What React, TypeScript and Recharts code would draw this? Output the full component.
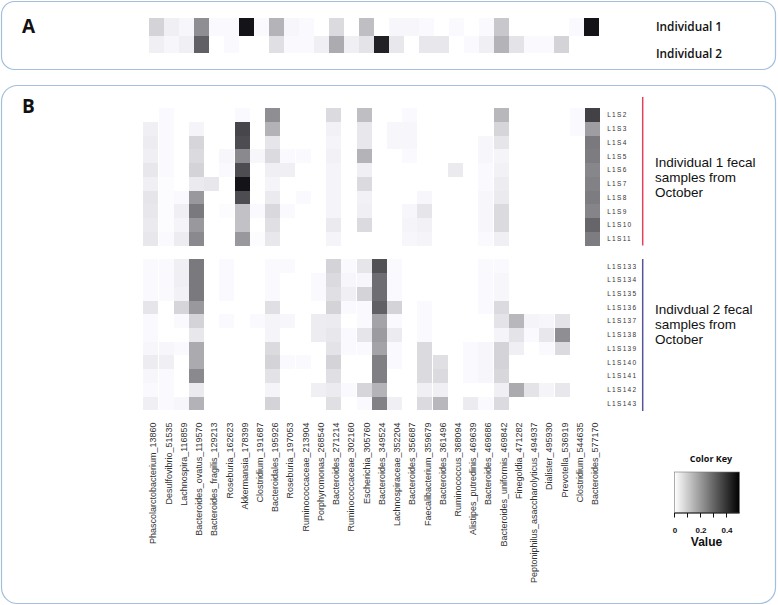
import React from 'react';
import { BarChart, Bar, XAxis, YAxis, Cell } from 'recharts';

// ---------- categories ----------
const taxa = [
  'Phascolarctobacterium_13860', 'Desulfovibrio_51535', 'Lachnospira_116859', 'Bacteroides_ovatus_119570',
  'Bacteroides_fragilis_129213', 'Roseburia_162623', 'Akkermansia_178399', 'Clostridium_191687',
  'Bacteroidales_195926', 'Roseburia_197053', 'Ruminococcaceae_213904', 'Porphyromonas_268540',
  'Bacteroides_271214', 'Ruminococcaceae_302160', 'Escherichia_305760', 'Bacteroides_349524',
  'Lachnospiraceae_352204', 'Bacteroides_356687', 'Faecalibacterium_359679', 'Bacteroides_361496',
  'Ruminococcus_368094', 'Alistipes_putredinis_469639', 'Bacteroides_469686', 'Bacteroides_uniformis_469842',
  'Finegoldia_471282', 'Peptoniphilus_asaccharolyticus_494937', 'Dialister_495930', 'Prevotella_536919',
  'Clostridium_544635', 'Bacteroides_577170',
];

const individuals = ['Individual 1', 'Individual 2'];
const samples1 = ['L1S2', 'L1S3', 'L1S4', 'L1S5', 'L1S6', 'L1S7', 'L1S8', 'L1S9', 'L1S10', 'L1S11'];
const samples2 = ['L1S133', 'L1S134', 'L1S135', 'L1S136', 'L1S137', 'L1S138', 'L1S139', 'L1S140', 'L1S141', 'L1S142', 'L1S143'];
const groupNotes1 = ['Individual 1 fecal', 'samples from', 'October'];
const groupNotes2 = ['Indivdual 2 fecal', 'samples from', 'October'];

// ---------- panel A values (per individual, one per taxon) ----------
const individual1 = [0.085, 0.03, 0.015, 0.22, 0.01, 0.01, 0.46, 0.01, 0.147, 0.015, 0.01, 0, 0.07, 0, 0.125,
  0, 0.015, 0.015, 0.01, 0, 0.01, 0, 0.01, 0.108, 0, 0, 0, 0, 0.01, 0.46];
const individual2 = [0.03, 0.015, 0.03, 0.31, 0, 0.01, 0, 0, 0.06, 0.01, 0.01, 0.03, 0.163, 0.03, 0.053,
  0.433, 0.045, 0, 0.045, 0.045, 0, 0.01, 0.03, 0.147, 0.053, 0.01, 0.01, 0.085, 0, 0];

// ---------- panel B values (per taxon: L1S2..L1S11 then L1S133..L1S143) ----------
const phascolarctobacterium13860 = [0, 0.03, 0.035, 0.03, 0.045, 0.03, 0.05, 0.045, 0.04, 0.045, 0.01, 0.01, 0.01, 0.05, 0.01, 0.01, 0.015, 0.035, 0.015, 0.01, 0.03];
const desulfovibrio51535 = [0.01, 0.01, 0.01, 0.01, 0.01, 0.005, 0.005, 0.005, 0.005, 0.01, 0.01, 0.01, 0.01, 0, 0, 0, 0.015, 0.03, 0.01, 0.01, 0.01];
const lachnospira116859 = [0, 0, 0, 0, 0, 0, 0.01, 0.03, 0.02, 0.035, 0.03, 0.03, 0.025, 0.08, 0.01, 0, 0.01, 0, 0, 0, 0.015];
const bacteroidesOvatus119570 = [0, 0.02, 0.08, 0.07, 0.085, 0.04, 0.2, 0.26, 0.2, 0.23, 0.26, 0.26, 0.26, 0.2, 0.085, 0.045, 0.165, 0.165, 0.23, 0.04, 0.15];
const bacteroidesFragilis129213 = [0, 0, 0, 0, 0, 0.045, 0, 0, 0, 0, 0, 0, 0, 0, 0, 0, 0, 0, 0, 0, 0];
const roseburia162623 = [0, 0, 0, 0.015, 0.01, 0, 0, 0.005, 0, 0, 0.01, 0.01, 0.01, 0, 0.01, 0, 0, 0, 0, 0, 0];
const akkermansia178399 = [0.01, 0.36, 0.35, 0.23, 0.35, 0.46, 0.35, 0.12, 0.12, 0.2, 0, 0, 0, 0, 0, 0, 0, 0, 0, 0, 0];
const clostridium191687 = [0, 0, 0, 0.015, 0, 0, 0, 0.01, 0, 0.005, 0, 0, 0, 0, 0.01, 0, 0, 0, 0, 0, 0];
const bacteroidales195926 = [0.22, 0.15, 0.05, 0.07, 0.03, 0.02, 0.04, 0.075, 0.06, 0.045, 0.01, 0.01, 0.01, 0.06, 0.02, 0.02, 0.07, 0.085, 0.055, 0.02, 0.085];
const roseburia197053 = [0, 0, 0, 0.01, 0.03, 0, 0, 0.01, 0, 0, 0.01, 0, 0, 0, 0.015, 0, 0, 0.01, 0, 0, 0];
const ruminococcaceae213904 = [0, 0, 0, 0.01, 0, 0, 0.01, 0, 0, 0, 0, 0, 0, 0, 0, 0, 0, 0.01, 0, 0, 0];
const porphyromonas268540 = [0, 0, 0, 0, 0, 0, 0, 0, 0, 0, 0, 0.01, 0.01, 0, 0.035, 0.035, 0, 0, 0, 0.03, 0];
const bacteroides271214 = [0.07, 0.025, 0.02, 0.025, 0.02, 0.02, 0.02, 0.02, 0.04, 0.02, 0.085, 0.07, 0.06, 0.085, 0.037, 0.045, 0.053, 0.085, 0.06, 0.037, 0.06];
const ruminococcaceae302160 = [0, 0, 0, 0, 0, 0, 0, 0, 0, 0, 0.01, 0.015, 0.03, 0.01, 0, 0.01, 0.01, 0, 0, 0.01, 0];
const escherichia305760 = [0.125, 0.045, 0.045, 0.147, 0.03, 0.07, 0.025, 0.03, 0.07, 0, 0.05, 0.015, 0.085, 0.01, 0.01, 0.05, 0.01, 0, 0, 0.08, 0.01];
const bacteroides349524 = [0, 0, 0, 0, 0, 0, 0, 0, 0, 0, 0.34, 0.284, 0.284, 0.31, 0.178, 0.194, 0.178, 0.25, 0.25, 0.147, 0.245];
const lachnospiraceae352204 = [0, 0.015, 0.015, 0, 0, 0, 0, 0, 0, 0, 0.01, 0.01, 0.01, 0.085, 0.01, 0.037, 0.01, 0.01, 0, 0, 0.03];
const bacteroides356687 = [0.01, 0.015, 0.015, 0.01, 0, 0, 0, 0.015, 0.02, 0.015, 0, 0, 0, 0, 0, 0, 0, 0, 0, 0, 0];
const faecalibacterium359679 = [0, 0, 0, 0, 0, 0, 0.015, 0.05, 0.025, 0.02, 0, 0, 0, 0.01, 0.01, 0.01, 0.07, 0.07, 0.07, 0.03, 0.07];
const bacteroides361496 = [0, 0, 0, 0, 0, 0, 0, 0, 0, 0, 0, 0, 0, 0, 0, 0, 0, 0.06, 0.07, 0.03, 0.14];
const ruminococcus368094 = [0, 0, 0, 0, 0.04, 0, 0, 0, 0, 0, 0, 0, 0, 0, 0, 0, 0, 0, 0, 0, 0];
const alistipesPutredinis469639 = [0, 0, 0, 0, 0, 0, 0, 0, 0, 0, 0, 0, 0, 0, 0, 0, 0.01, 0.01, 0.01, 0, 0.037];
const bacteroides469686 = [0, 0, 0.015, 0.015, 0.01, 0.01, 0.015, 0.015, 0.015, 0.01, 0.01, 0.01, 0.01, 0.01, 0, 0, 0.015, 0.015, 0.015, 0, 0.01];
const bacteroidesUniformis469842 = [0.14, 0.08, 0.05, 0.02, 0.025, 0.035, 0.04, 0.07, 0.07, 0.03, 0.01, 0.015, 0.015, 0.07, 0.053, 0.02, 0.085, 0.085, 0.076, 0.03, 0.07];
const finegoldia471282 = [0, 0, 0, 0, 0, 0, 0, 0, 0, 0, 0, 0, 0, 0, 0.14, 0.053, 0.03, 0, 0, 0.165, 0];
const peptoniphilus494937 = [0, 0, 0, 0, 0, 0, 0, 0, 0, 0, 0, 0, 0, 0, 0.02, 0.01, 0, 0, 0, 0.053, 0];
const dialister495930 = [0, 0, 0, 0, 0, 0, 0, 0, 0, 0, 0, 0, 0, 0, 0.015, 0.045, 0.01, 0, 0, 0.02, 0];
const prevotella536919 = [0, 0, 0, 0, 0, 0, 0, 0, 0, 0, 0, 0, 0, 0, 0.053, 0.22, 0.07, 0, 0, 0.045, 0];
const clostridium544635 = [0.01, 0.01, 0, 0, 0, 0, 0, 0, 0, 0, 0, 0, 0, 0, 0, 0, 0, 0, 0, 0, 0];
const bacteroides577170 = [0.37, 0.19, 0.26, 0.255, 0.235, 0.245, 0.255, 0.24, 0.3, 0.255, 0, 0, 0, 0, 0, 0, 0, 0, 0, 0, 0];

const fecalColumns = [
  phascolarctobacterium13860, desulfovibrio51535, lachnospira116859, bacteroidesOvatus119570,
  bacteroidesFragilis129213, roseburia162623, akkermansia178399, clostridium191687,
  bacteroidales195926, roseburia197053, ruminococcaceae213904, porphyromonas268540,
  bacteroides271214, ruminococcaceae302160, escherichia305760, bacteroides349524,
  lachnospiraceae352204, bacteroides356687, faecalibacterium359679, bacteroides361496,
  ruminococcus368094, alistipesPutredinis469639, bacteroides469686, bacteroidesUniformis469842,
  finegoldia471282, peptoniphilus494937, dialister495930, prevotella536919,
  clostridium544635, bacteroides577170,
];

const keyTicks = [0, 0.1, 0.2, 0.3, 0.4];
const keyLabels = [0, 0.2, 0.4];
const keyMax = 0.5;

// ---------- helpers ----------
const shade = (v: number) => {
  const g = Math.round(255 * (1 - Math.min(v, keyMax) / keyMax));
  return `rgb(${g},${g},${Math.min(255, g + 4)})`;
};

const AXIS_FONT = '"Liberation Sans", Arial, sans-serif';
const TEXT_FONT = '"Open Sans", "DejaVu Sans", sans-serif';
const NOTE_FONT = '"Liberation Sans", Arial, sans-serif';

// Panel B slot layout (bottom to top): samples2 reversed, a gap, samples1 reversed
type Slot = { row: number | null; label: string };
const slotsB: Slot[] = [];
for (let i = samples2.length - 1; i >= 0; i--) slotsB.push({ row: samples1.length + i, label: samples2[i] });
slotsB.push({ row: null, label: '' });
for (let i = samples1.length - 1; i >= 0; i--) slotsB.push({ row: i, label: samples1[i] });

const dataB = taxa.map((t) => {
  const o: any = { taxon: t };
  slotsB.forEach((_, i) => { o['s' + i] = 1; });
  return o;
});
const ticksB = slotsB.map((s, i) => (s.row === null ? null : i + 0.5)).filter((v) => v !== null) as number[];

const rowsA = [individual2, individual1]; // bottom to top
const dataA = taxa.map((t) => ({ taxon: t, a0: 1, a1: 1 }));

const XTick = (props: any) => {
  const { x, y, payload } = props;
  return (
    <text
      transform={`translate(${x + 5.5},${y}) rotate(-90)`}
      textAnchor="end"
      fontSize={9}
      fontFamily={AXIS_FONT}
      fill="#333"
    >
      {payload.value}
    </text>
  );
};

const YTick = (props: any) => {
  const { x, y, payload } = props;
  const slot = slotsB[Math.floor(payload.value)];
  return (
    <text x={x} y={y} dy={2.3} textAnchor="start" fontSize={6.5} letterSpacing={1.3} fontFamily={AXIS_FONT} fill="#333">
      {slot ? slot.label : ''}
    </text>
  );
};

export default function App() {
  return (
    <div style={{ position: 'absolute', left: 0, top: 0, width: 778, height: 605, background: '#fff' }}>
      {/* panel frames */}
      <svg width={778} height={605} style={{ position: 'absolute', left: 0, top: 0 }}>
        <rect x={1.5} y={1.5} width={774} height={68} rx={13} ry={13} fill="none" stroke="#a3bfdc" strokeWidth={1.2} />
        <rect x={1.5} y={85.5} width={774} height={518} rx={16} ry={16} fill="none" stroke="#a3bfdc" strokeWidth={1.2} />
      </svg>

      {/* Panel A heatmap */}
      <div style={{ position: 'absolute', left: 0, top: 0 }}>
        <BarChart
          width={778}
          height={80}
          data={dataA}
          margin={{ top: 18.3, left: 149, right: 179, bottom: 26.7 }}
          barCategoryGap={0}
          barGap={0}
        >
          <XAxis dataKey="taxon" hide />
          <YAxis type="number" domain={[0, 2]} hide />
          {rowsA.map((vals, i) => (
            <Bar key={i} dataKey={'a' + i} stackId="a" isAnimationActive={false} shapeRendering="crispEdges">
              {taxa.map((t, c) => (
                <Cell key={t} fill={shade(vals[c])} />
              ))}
            </Bar>
          ))}
        </BarChart>
      </div>

      {/* Panel B heatmap */}
      <div style={{ position: 'absolute', left: 0, top: 0 }}>
        <BarChart
          width={778}
          height={605}
          data={dataB}
          margin={{ top: 108.3, left: 143.3, right: 137.8, bottom: 184.6 }}
          barCategoryGap={0}
          barGap={0}
        >
          <XAxis
            dataKey="taxon"
            interval={0}
            height={10}
            tickLine={false}
            axisLine={false}
            tickSize={6}
            tickMargin={6}
            tick={<XTick />}
          />
          <YAxis
            type="number"
            orientation="right"
            domain={[0, slotsB.length]}
            ticks={ticksB}
            interval={0}
            width={40}
            tickLine={false}
            axisLine={false}
            tickSize={6}
            tickMargin={1}
            tick={<YTick />}
          />
          {slotsB.map((s, i) => (
            <Bar key={i} dataKey={'s' + i} stackId="b" isAnimationActive={false} fill="none" shapeRendering="crispEdges">
              {taxa.map((t, c) => (
                <Cell key={t} fill={s.row === null ? 'none' : shade(fecalColumns[c][s.row])} />
              ))}
            </Bar>
          ))}
        </BarChart>
      </div>

      {/* annotations */}
      <svg width={778} height={605} style={{ position: 'absolute', left: 0, top: 0 }}>
        <defs>
          <linearGradient id="keyGrad" x1="0" x2="1" y1="0" y2="0">
            <stop offset="0%" stopColor="#ffffff" />
            <stop offset="100%" stopColor="#000000" />
          </linearGradient>
        </defs>
        <g fontFamily={TEXT_FONT} fill="#111">
          <text x={22} y={33} fontSize={19} fontWeight={700}>A</text>
          <text x={22} y={113} fontSize={19} fontWeight={700}>B</text>

          <text x={656} y={31} fontSize={11.8} fontWeight={600}>{individuals[0]}</text>
          <text x={656} y={57.5} fontSize={11.8} fontWeight={600}>{individuals[1]}</text>
        </g>
        <g fontFamily={NOTE_FONT} fill="#111" fontSize={13.5}>
          {groupNotes1.map((s, i) => (
            <text key={'g1' + i} x={655} y={166.5 + i * 15.2}>{s}</text>
          ))}
          {groupNotes2.map((s, i) => (
            <text key={'g2' + i} x={655} y={314 + i * 15.2}>{s}</text>
          ))}
        </g>

        <line x1={642.7} x2={642.7} y1={97} y2={245.5} stroke="#e2425c" strokeWidth={1.5} />
        <line x1={642.7} x2={642.7} y1={259} y2={411} stroke="#55559c" strokeWidth={1.5} />

        {/* colour key */}
        <text x={711} y={462} textAnchor="middle" fontSize={9} fontWeight={700} fontFamily={TEXT_FONT} fill="#111">Color Key</text>
        <rect x={674.5} y={472} width={65} height={41} fill="url(#keyGrad)" stroke="#777" strokeWidth={0.6} />
        <line x1={674.5} x2={739.5} y1={513} y2={513} stroke="#111" strokeWidth={1} />
        {keyTicks.map((v) => (
          <line key={v} x1={674.5 + (v / keyMax) * 65} x2={674.5 + (v / keyMax) * 65} y1={513} y2={517.5} stroke="#111" strokeWidth={1} />
        ))}
        {keyLabels.map((v) => (
          <text key={v} x={674.5 + (v / keyMax) * 65 + 0.5} y={532.5} textAnchor="middle" fontSize={8} fontWeight={700} fontFamily={NOTE_FONT} fill="#111">
            {String(v)}
          </text>
        ))}
        <text x={706.5} y={546} textAnchor="middle" fontSize={12} fontWeight={700} fontFamily={NOTE_FONT} fill="#111">Value</text>
      </svg>
    </div>
  );
}
